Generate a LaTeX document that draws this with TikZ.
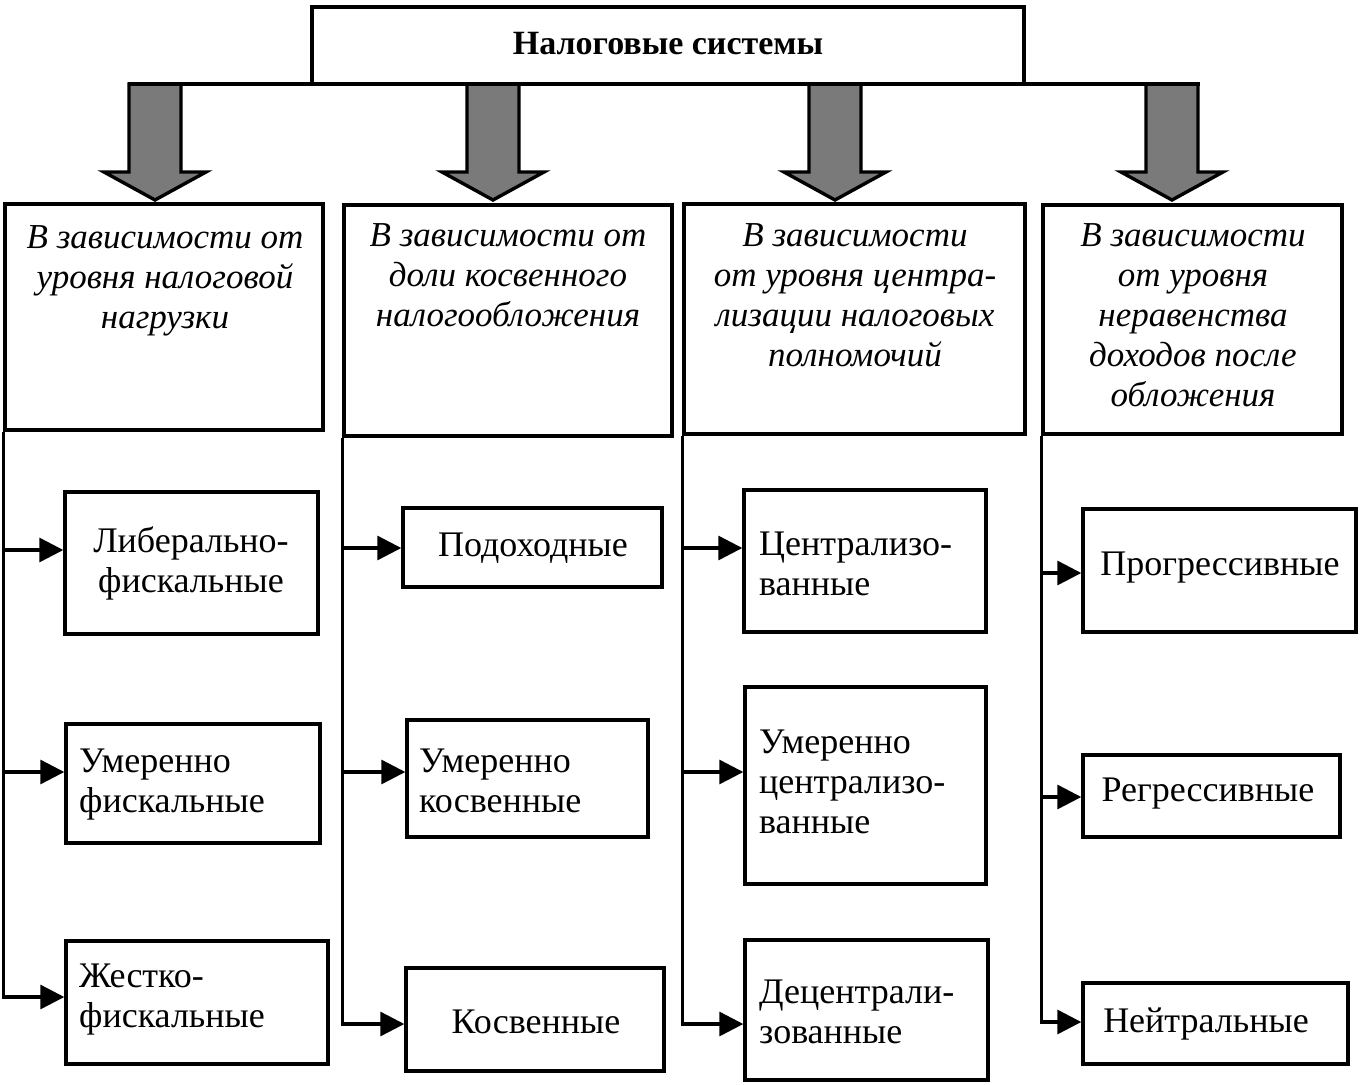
\documentclass[tikz,border=0pt]{standalone}
\usepackage{fontspec}
\setmainfont{Liberation Serif}
\usetikzlibrary{arrows.meta,fit}
\begin{document}
\begin{tikzpicture}[x=1pt,y=-1pt,
  box/.style={draw, line width=3.4pt, rectangle, inner sep=0pt},
  leaf/.style={font=\fontsize{36}{40}\selectfont, inner sep=0pt, align=left},
  leafc/.style={font=\fontsize{36}{40}\selectfont, inner sep=0pt, align=center},
  cat/.style={font=\fontsize{35}{40}\selectfont\itshape, inner sep=0pt, align=center, anchor=north},
  conn/.style={line width=3.2pt, -{Triangle[length=24pt,width=24pt]}},
  spine/.style={line width=3.4pt},
  bigarrow/.style={draw, line width=3.4pt, fill=black!52, line join=miter}]
\fill[white] (0,0) rectangle (1364,1084);
\useasboundingbox (0,0) rectangle (1364,1084);

% top box
\node[box, fit={(312,7) (1024,84)}] (top) {};
\node[font=\fontsize{34}{38}\selectfont\bfseries, inner sep=0pt] (title) at (668,44) {Налоговые системы};

% big arrows
\coordinate (a1) at (155,84);
\coordinate (a2) at (493,84);
\coordinate (a3) at (835,84);
\coordinate (a4) at (1172,84);
\tikzset{pics/bigarr/.style={code={
  \path[bigarrow] (-26,0) -- (-26,88) -- (-51,88) -- (0,116) -- (51,88) -- (26,88) -- (26,0) -- cycle;}}}
\pic at (a1) {bigarr};
\pic at (a2) {bigarr};
\pic at (a3) {bigarr};
\pic at (a4) {bigarr};
\draw[spine] ([xshift=-27.5pt]a1) -- ([xshift=27.5pt]a4);

% category boxes
\node[box, fit={(5,204) (323,430)}] (c1) {};
\node[box, fit={(344,205) (672,436)}] (c2) {};
\node[box, fit={(684,204) (1025,434)}] (c3) {};
\node[box, fit={(1043,205) (1342,434)}] (c4) {};
\node[cat] (ct1) at (165,225) {В зависимости от\\уровня налоговой\\нагрузки};
\node[cat] (ct2) at (508,223) {В зависимости от\\доли косвенного\\налогообложения};
\node[cat] (ct3) at (855,223) {В зависимости\\от уровня центра-\\лизации налоговых\\полномочий};
\node[cat] (ct4) at (1193,223) {В зависимости\\от уровня\\неравенства\\доходов после\\обложения};

% leaf boxes
\node[box, fit={(65,492) (318,634)}] (l11) {};
\node[box, fit={(66,724) (320,843)}] (l12) {};
\node[box, fit={(66,941) (328,1064)}] (l13) {};
\node[box, fit={(403,508) (662,587)}] (l21) {};
\node[box, fit={(407,720) (648,837)}] (l22) {};
\node[box, fit={(406,968) (664,1071)}] (l23) {};
\node[box, fit={(744,490) (986,632)}] (l31) {};
\node[box, fit={(745,687) (986,884)}] (l32) {};
\node[box, fit={(745,940) (988,1080)}] (l33) {};
\node[box, fit={(1083,509) (1356,632)}] (l41) {};
\node[box, fit={(1083,755) (1340,837)}] (l42) {};
\node[box, fit={(1083,983) (1348,1064)}] (l43) {};

\node[leafc] (t11) at (191,563) {Либерально-\\фискальные};
\node[leaf, anchor=west] (t12) at (79,785) {Умеренно\\фискальные};
\node[leaf, anchor=west] (t13) at (79,1000) {Жестко-\\фискальные};
\node[leafc] (t21) at (533,548) {Подоходные};
\node[leaf, anchor=west] (t22) at (419,781) {Умеренно\\косвенные};
\node[leafc] (t23) at (536,1022) {Косвенные};
\node[leaf, anchor=west] (t31) at (759,564) {Централизо-\\ванные};
\node[leaf, anchor=west] (t32) at (759,782) {Умеренно\\централизо-\\ванные};
\node[leaf, anchor=west] (t33) at (759,1012) {Децентрали-\\зованные};
\node[leafc] (t41) at (1220,568) {Прогрессивные};
\node[leafc] (t42) at (1208,794) {Регрессивные};
\node[leafc] (t43) at (1206,1024) {Нейтральные};

% connector rows
\coordinate (y11) at (0,550);
\coordinate (y12) at (0,772);
\coordinate (y13) at (0,997);
\coordinate (y21) at (0,548);
\coordinate (y22) at (0,772);
\coordinate (y23) at (0,1024);
\coordinate (y31) at (0,548);
\coordinate (y32) at (0,772);
\coordinate (y33) at (0,1024);
\coordinate (y41) at (0,573);
\coordinate (y42) at (0,797);
\coordinate (y43) at (0,1022);

\draw[conn] (c1.south west) |- (l13.west |- y13);
\draw[conn] (c1.south west |- y11) -- (l11.west |- y11);
\draw[conn] (c1.south west |- y12) -- (l12.west |- y12);
\draw[conn] (c2.south west) |- (l23.west |- y23);
\draw[conn] (c2.south west |- y21) -- (l21.west |- y21);
\draw[conn] (c2.south west |- y22) -- (l22.west |- y22);
\draw[conn] (c3.south west) |- (l33.west |- y33);
\draw[conn] (c3.south west |- y31) -- (l31.west |- y31);
\draw[conn] (c3.south west |- y32) -- (l32.west |- y32);
\draw[conn] (c4.south west) |- (l43.west |- y43);
\draw[conn] (c4.south west |- y41) -- (l41.west |- y41);
\draw[conn] (c4.south west |- y42) -- (l42.west |- y42);
\end{tikzpicture}
\end{document}
